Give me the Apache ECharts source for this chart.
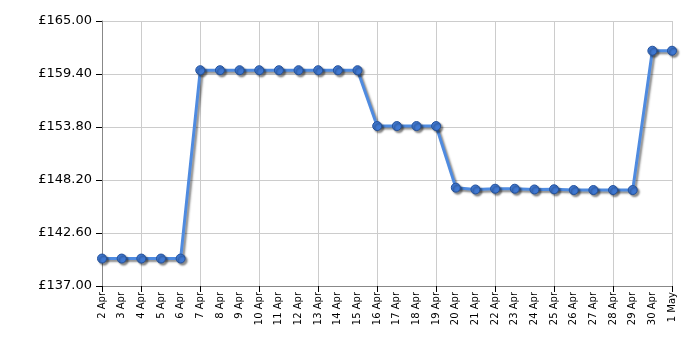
<!DOCTYPE html>
<html><head><meta charset="utf-8">
<script src="https://cdn.jsdelivr.net/npm/echarts@6/dist/echarts.min.js"></script>
<style>html,body{margin:0;padding:0;background:#fff}#c{width:700px;height:350px}</style>
</head><body><div id="c"></div>
<script>
var categories = ["2 Apr","3 Apr","4 Apr","5 Apr","6 Apr","7 Apr","8 Apr","9 Apr","10 Apr","11 Apr","12 Apr","13 Apr","14 Apr","15 Apr","16 Apr","17 Apr","18 Apr","19 Apr","20 Apr","21 Apr","22 Apr","23 Apr","24 Apr","25 Apr","26 Apr","27 Apr","28 Apr","29 Apr","30 Apr","1 May"];
var prices = [139.9,139.9,139.9,139.9,139.9,159.8,159.8,159.8,159.8,159.8,159.8,159.8,159.8,159.8,153.9,153.9,153.9,153.9,147.39,147.2,147.28,147.28,147.2,147.22,147.14,147.14,147.14,147.14,161.86,161.86];
var yMin = 137, yMax = 165, yStep = 5.6;

var chart = echarts.init(document.getElementById('c'), null, {renderer:'canvas'});
var gridIdx = function(i){ return (i - 2) % 3 === 0; };
chart.setOption({
  animation:false,
  grid:{left:102,right:28,top:21,bottom:64},
  xAxis:{
    type:'category', data:categories, boundaryGap:false,
    axisLine:{lineStyle:{color:'#888',width:1}},
    axisTick:{show:true,interval:function(i){return i===0||gridIdx(i);},length:6,lineStyle:{color:'#000'}},
    axisLabel:{interval:0,rotate:90,fontFamily:'DejaVu Sans',fontSize:10,color:'#000',margin:6},
    splitLine:{show:true,interval:gridIdx,lineStyle:{color:'#ccc',width:1}}
  },
  yAxis:{
    type:'value', min:yMin, max:yMax, interval:yStep,
    axisLine:{show:true,lineStyle:{color:'#888',width:1}},
    axisTick:{show:true,length:6,lineStyle:{color:'#000'}},
    axisLabel:{fontFamily:'DejaVu Sans',fontSize:13,color:'#000',margin:10,formatter:function(v){return '£'+v.toFixed(2);}},
    splitLine:{show:true,lineStyle:{color:'#ccc',width:1}}
  },
  series:[{
    type:'line', data:prices, symbol:'circle', symbolSize:9,
    lineStyle:{color:'#4f8be0',width:3,shadowColor:'rgba(0,0,0,0.45)',shadowBlur:2,shadowOffsetX:2,shadowOffsetY:2},
    itemStyle:{color:'#3f78d2',borderColor:'#24519a',borderWidth:1,shadowColor:'rgba(0,0,0,0.45)',shadowBlur:2,shadowOffsetX:2,shadowOffsetY:2}
  }]
});
</script></body></html>
